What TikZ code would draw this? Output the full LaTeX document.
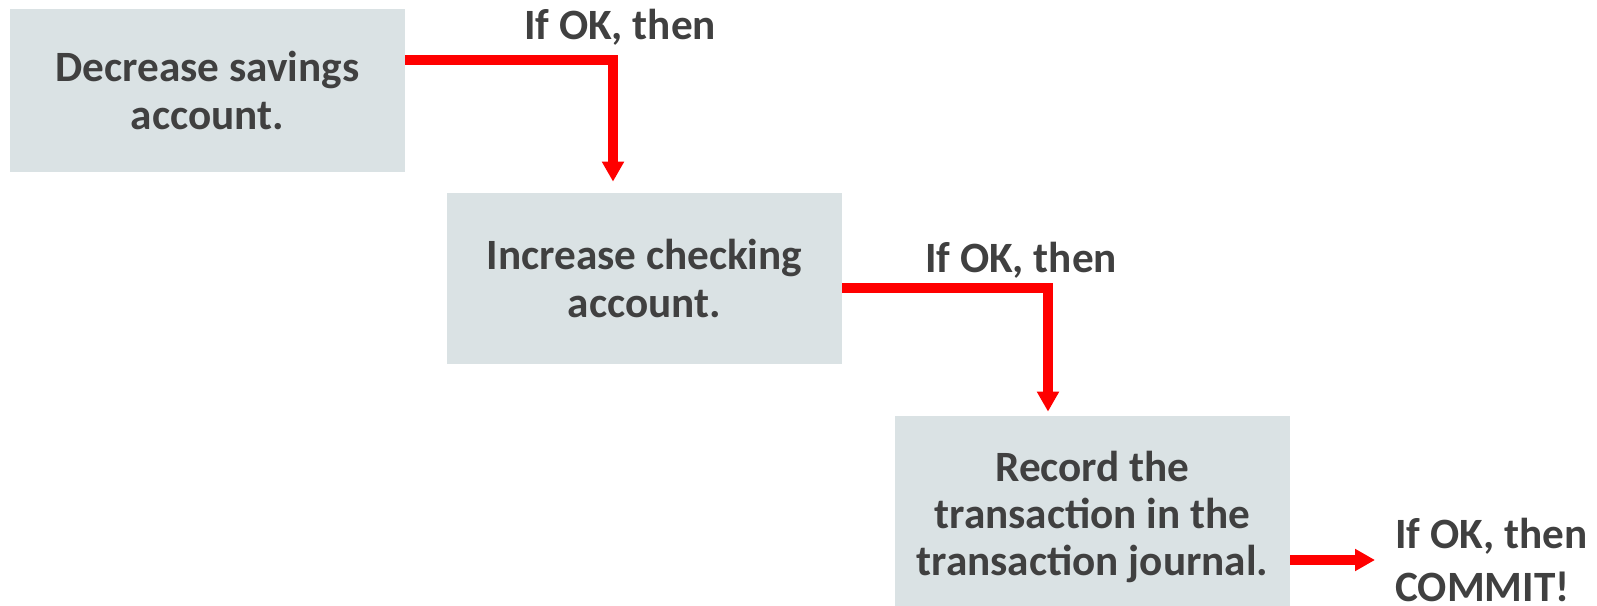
\documentclass[tikz,border=0pt]{standalone}
\usepackage{fontspec}
\setmainfont{Carlito}
\usetikzlibrary{arrows.meta}
\definecolor{boxgray}{HTML}{DAE2E4}
\definecolor{textgray}{HTML}{404040}
\definecolor{flowred}{HTML}{FF0000}

\begin{document}
\begin{tikzpicture}[
    font=\fontsize{24.6}{27}\selectfont\bfseries,
    text=textgray,
    stepbox/.style={fill=boxgray, minimum width=7.9cm, inner sep=0pt, align=center},
    okay/.style={inner sep=0pt, align=left},
    flow/.style={flowred, line width=5.7pt, -{Triangle[width=4.2mm,length=4mm]}}]
  \useasboundingbox (0,0) rectangle (31.94,12.12);
  % the three steps
  \node[stepbox, minimum height=3.26cm] (dec) at (4.15,10.31) {Decrease savings\\account.};
  \node[stepbox, minimum height=3.42cm] (inc) at (12.89,6.55) {Increase checking\\account.};
  \node[stepbox, minimum height=4.04cm] (rec) at (21.85,1.78) {Record the\\transaction in the\\transaction journal.};
  % labels
  \node[okay, anchor=base] (ok1) at (12.4,11.32) {If OK, then};
  \node[okay, anchor=base] (ok2) at (20.42,6.66) {If OK, then};
  \node[okay, anchor=west] (commit) at (27.9,0.92) {If OK, then\\[3pt]COMMIT!};
  % arrows
  \draw[flow] ([yshift=6.1mm]dec.east) -| ([xshift=-6.3mm,yshift=2.2mm]inc.north);
  \draw[flow] ([yshift=-1.9mm]inc.east) -| ([xshift=-8.9mm,yshift=0.8mm]rec.north);
  \draw[flow] (rec.east |- commit.west) -- ([xshift=-4mm]commit.west);
\end{tikzpicture}
\end{document}
